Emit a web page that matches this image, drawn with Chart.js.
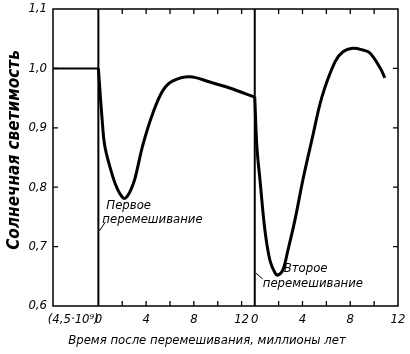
<!DOCTYPE html>
<html>
<head>
<meta charset="utf-8">
<script src="https://cdn.jsdelivr.net/npm/chart.js@4/dist/chart.umd.min.js"></script>
<style>
  html, body { margin: 0; padding: 0; background: #fff; }
  #wrap { width: 410px; height: 354px; }
</style>
</head>
<body>
<div id="wrap"><canvas id="chart"></canvas></div>
<script>
const FONT = "'Liberation Sans Narrow', 'DejaVu Sans Condensed', 'DejaVu Sans', sans-serif";

// before the first mixing (4.5e9 yr, squeezed into a short stub)
const preT = [-3.8, 0];
const preL = [1.0, 1.0];

// after the first mixing, Myr
const firstT = [0, 0.3, 0.55, 1.22, 1.64, 1.98, 2.19, 2.4, 2.73, 3.07, 3.74, 4.57, 5.41, 6.25, 7.67, 9.35, 11.0, 13.05];
const firstL = [1.0, 0.918, 0.868, 0.817, 0.795, 0.784, 0.781, 0.784, 0.796, 0.815, 0.872, 0.925, 0.963, 0.979, 0.986, 0.977, 0.967, 0.952];

// after the second mixing, Myr
const secondT = [0, 0.18, 0.44, 0.85, 1.27, 1.69, 1.94, 2.36, 2.78, 3.37, 4.04, 4.79, 5.63, 6.72, 7.39, 8.22, 9.06, 9.65, 10.5, 10.9];
const secondL = [0.952, 0.868, 0.812, 0.728, 0.677, 0.656, 0.652, 0.661, 0.694, 0.745, 0.813, 0.88, 0.952, 1.011, 1.028, 1.034, 1.031, 1.026, 1.001, 0.984];

// where each panel starts on the shared x axis
const mixAt = [0, 13.1];
const tickT = [2, 4, 6, 8, 10, 12];
const labelT = [0, 4, 8, 12];
const preLabel = "(4,5·10⁹)";
const preLabelAt = -2.1;
const yTicks = [0.6, 0.7, 0.8, 0.9, 1.0, 1.1];
const yInnerTicks = [0.7, 0.8, 0.9, 1.0];

const X_MIN = -3.8, X_MAX = 25.1;

// x tick labels (positions on the shared axis + text)
const xLabelPos = [preLabelAt];
const xLabelText = [preLabel];
mixAt.forEach(m => labelT.forEach(t => { xLabelPos.push(m + t); xLabelText.push(String(t)); }));

function pts(ts, ls, off) {
  return ts.map((t, i) => ({ x: off + t, y: ls[i] }));
}

// ---------- frame, inward ticks, mixing lines, texts ----------
const decor = {
  id: "decor",
  afterDraw(chart) {
    const { ctx, chartArea: a, scales } = chart;
    const xs = scales.x, ys = scales.y;
    ctx.save();
    ctx.strokeStyle = "#000";
    ctx.fillStyle = "#000";

    ctx.lineWidth = 1.5;
    ctx.strokeRect(a.left, a.top, a.right - a.left, a.bottom - a.top);

    // mixing lines
    ctx.lineWidth = 2;
    mixAt.forEach(m => {
      const px = xs.getPixelForValue(m);
      ctx.beginPath(); ctx.moveTo(px, a.top); ctx.lineTo(px, a.bottom); ctx.stroke();
    });

    // inward ticks
    ctx.lineWidth = 1.3;
    const L = 5;
    mixAt.forEach(m => tickT.forEach(t => {
      const v = m + t;
      if (v >= X_MAX - 0.05) return;
      const px = xs.getPixelForValue(v);
      ctx.beginPath();
      ctx.moveTo(px, a.bottom); ctx.lineTo(px, a.bottom - L);
      ctx.moveTo(px, a.top); ctx.lineTo(px, a.top + L);
      ctx.stroke();
    }));
    yInnerTicks.forEach(v => {
      const py = ys.getPixelForValue(v);
      ctx.beginPath();
      ctx.moveTo(a.left, py); ctx.lineTo(a.left + L, py);
      ctx.moveTo(a.right, py); ctx.lineTo(a.right - L, py);
      ctx.stroke();
    });

    // annotations
    ctx.font = "italic 13px " + FONT;
    ctx.textBaseline = "middle";
    ctx.textAlign = "left";
    const p1 = xs.getPixelForValue(mixAt[0]);
    ctx.fillText("Первое", p1 + 8, 206);
    ctx.fillText("перемешивание", p1 + 4, 220);
    ctx.lineWidth = 1;
    ctx.beginPath(); ctx.moveTo(p1 + 1, 231); ctx.lineTo(p1 + 7, 222); ctx.stroke();

    const p2 = xs.getPixelForValue(mixAt[1]);
    ctx.fillText("Второе", p2 + 29, 269);
    ctx.fillText("перемешивание", p2 + 8, 284);
    ctx.beginPath(); ctx.moveTo(p2 + 1, 273); ctx.lineTo(p2 + 8, 279); ctx.stroke();

    // axis titles
    ctx.textAlign = "center";
    ctx.font = "italic 13px " + FONT;
    ctx.fillText("Время после перемешивания, миллионы лет", 207, 341);
    ctx.translate(15, 150);
    ctx.rotate(-Math.PI / 2);
    ctx.font = "italic bold 17px " + FONT;
    ctx.fillText("Солнечная светимость", 0, 0);
    ctx.restore();
  }
};

const line = (data, w, tension) => ({
  data, borderColor: "#000", borderWidth: w, pointRadius: 0,
  fill: false, tension
});

new Chart(document.getElementById("chart"), {
  type: "line",
  data: {
    datasets: [
      line(pts(preT, preL, 0), 2, 0),
      line(pts(firstT, firstL, mixAt[0]), 3, 0.35),
      line(pts(secondT, secondL, mixAt[1]), 3, 0.35)
    ]
  },
  options: {
    responsive: true,
    maintainAspectRatio: false,
    animation: false,
    layout: { padding: { top: 9, right: 12, left: 0, bottom: 0 } },
    plugins: { legend: { display: false }, tooltip: { enabled: false } },
    scales: {
      x: {
        type: "linear", min: X_MIN, max: X_MAX,
        grid: { display: false, drawTicks: false },
        border: { display: false },
        afterBuildTicks: s => { s.ticks = xLabelPos.map(v => ({ value: v })); },
        afterFit: s => { s.height = 48; s.paddingLeft = 0; s.paddingRight = 0; },
        ticks: {
          autoSkip: false, maxRotation: 0, padding: 6, color: "#000",
          font: { family: FONT, size: 13, style: "italic" },
          callback: v => {
            const i = xLabelPos.findIndex(p => Math.abs(p - v) < 1e-6);
            return i < 0 ? "" : xLabelText[i];
          }
        }
      },
      y: {
        min: 0.6, max: 1.1,
        grid: { display: false, drawTicks: false },
        border: { display: false },
        afterBuildTicks: s => { s.ticks = yTicks.map(v => ({ value: v })); },
        afterFit: s => { s.width = 53; s.paddingTop = 0; s.paddingBottom = 0; },
        ticks: {
          padding: 6, color: "#000",
          font: { family: FONT, size: 13, style: "italic" },
          callback: v => v.toFixed(1).replace(".", ",")
        }
      }
    }
  },
  plugins: [decor]
});
</script>
</body>
</html>
